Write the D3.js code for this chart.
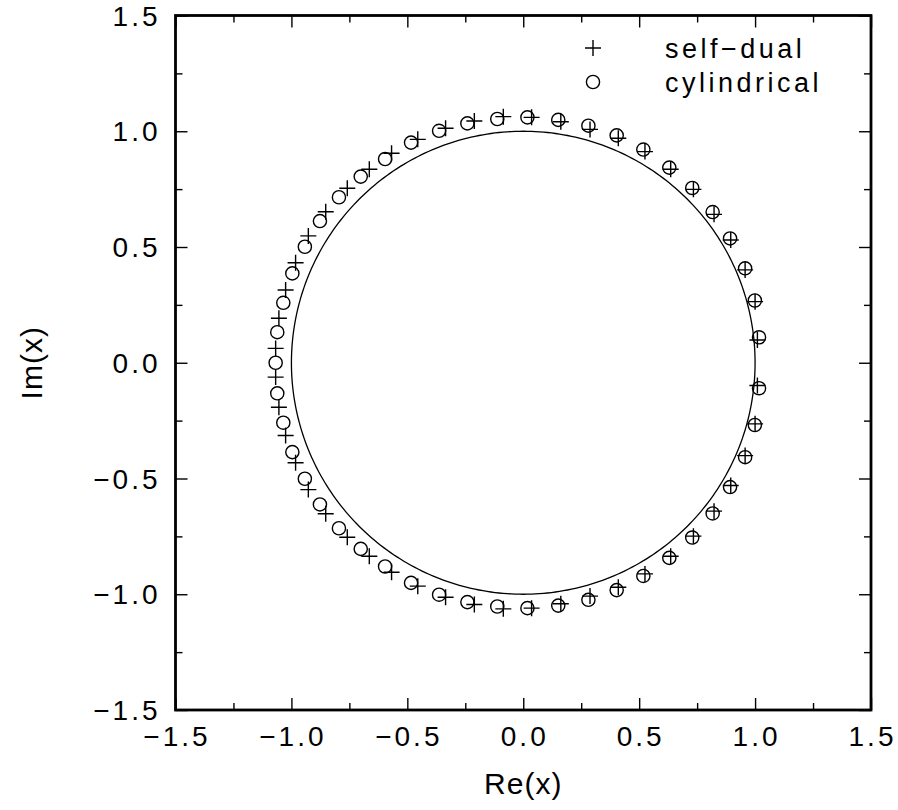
<!DOCTYPE html>
<html>
<head>
<meta charset="utf-8">
<script src="https://cdn.jsdelivr.net/npm/d3@7"></script>
<style>
   body { margin: 0; background: #fff; }
   text { font-family: "Liberation Sans", Arial, sans-serif; fill: #000; }
</style>
</head>
<body>
<div id="chart"></div>
<script>
// roots (re, im)
var selfDual = [
   [-1.068, 0.062], [-1.054, 0.192], [-1.025, 0.314], [-0.982, 0.432], [-0.927, 0.548],
   [-0.852, 0.652], [-0.759, 0.754], [-0.664, 0.836], [-0.568, 0.905], [-0.455, 0.965],
   [-0.335, 1.013], [-0.211, 1.044], [-0.086, 1.063], [0.036, 1.060], [0.162, 1.041],
   [0.288, 1.008], [0.410, 0.970], [0.525, 0.912], [0.636, 0.836], [0.734, 0.749],
   [0.823, 0.641], [0.895, 0.530], [0.957, 0.401], [1.000, 0.264], [1.010, 0.098],
   [-1.068, -0.062], [-1.054, -0.192], [-1.025, -0.314], [-0.982, -0.432], [-0.927, -0.548],
   [-0.852, -0.652], [-0.759, -0.754], [-0.664, -0.836], [-0.568, -0.905], [-0.455, -0.965],
   [-0.335, -1.013], [-0.211, -1.044], [-0.086, -1.063], [0.036, -1.060], [0.162, -1.041],
   [0.288, -1.008], [0.410, -0.970], [0.525, -0.912], [0.636, -0.836], [0.734, -0.749],
   [0.823, -0.641], [0.895, -0.530], [0.957, -0.401], [1.000, -0.264], [1.010, -0.098]
];

var cylindrical = [
   [-1.068, 0.000],
   [-1.061, 0.132], [-1.035, 0.259], [-0.996, 0.386], [-0.942, 0.501], [-0.877, 0.612],
   [-0.795, 0.715], [-0.701, 0.804], [-0.596, 0.880], [-0.484, 0.951], [-0.363, 1.002],
   [-0.241, 1.034], [-0.112, 1.053], [0.018, 1.060], [0.151, 1.049], [0.281, 1.024],
   [0.403, 0.982], [0.518, 0.921], [0.630, 0.843], [0.729, 0.755], [0.817, 0.651],
   [0.892, 0.537], [0.957, 0.408], [0.999, 0.269], [1.017, 0.110],
   [-1.061, -0.132], [-1.035, -0.259], [-0.996, -0.386], [-0.942, -0.501], [-0.877, -0.612],
   [-0.795, -0.715], [-0.701, -0.804], [-0.596, -0.880], [-0.484, -0.951], [-0.363, -1.002],
   [-0.241, -1.034], [-0.112, -1.053], [0.018, -1.060], [0.151, -1.049], [0.281, -1.024],
   [0.403, -0.982], [0.518, -0.921], [0.630, -0.843], [0.729, -0.755], [0.817, -0.651],
   [0.892, -0.537], [0.957, -0.408], [0.999, -0.269], [1.017, -0.110]
];

var majorTicks = [-1.5, -1.0, -0.5, 0.0, 0.5, 1.0, 1.5];
var minorTicks = [-1.25, -0.75, -0.25, 0.25, 0.75, 1.25];
var seriesNames = ["self\u2212dual", "cylindrical"];
var xTitle = "Re(x)", yTitle = "Im(x)";

var width = 898,
   height = 810,
   margin = {top: 15.5, right: 27, bottom: 100, left: 175.5};

var x = d3.scaleLinear().domain([-1.5, 1.5]).range([margin.left, width - margin.right]);
var y = d3.scaleLinear().domain([-1.5, 1.5]).range([height - margin.bottom, margin.top]);
var fmt = d3.format(".1f");

var svg = d3.select("#chart").append("svg")
   .attr("width", width)
   .attr("height", height);

// inward ticks on all four sides
function ticks(axis, vals, size, transform) {
   var g = svg.append("g")
      .attr("transform", transform)
      .call(axis.tickValues(vals).tickSize(-size).tickFormat(""));
   g.select(".domain").remove();
   g.selectAll("line").attr("stroke", "#000").attr("stroke-width", 1.4);
}
var atBottom = "translate(0," + y(-1.5) + ")",
   atTop = "translate(0," + y(1.5) + ")",
   atLeft = "translate(" + x(-1.5) + ",0)",
   atRight = "translate(" + x(1.5) + ",0)";
ticks(d3.axisBottom(x), majorTicks, 12, atBottom);
ticks(d3.axisBottom(x), minorTicks, 7, atBottom);
ticks(d3.axisTop(x), majorTicks, 12, atTop);
ticks(d3.axisTop(x), minorTicks, 7, atTop);
ticks(d3.axisLeft(y), majorTicks, 12, atLeft);
ticks(d3.axisLeft(y), minorTicks, 7, atLeft);
ticks(d3.axisRight(y), majorTicks, 12, atRight);
ticks(d3.axisRight(y), minorTicks, 7, atRight);

svg.append("rect")
   .attr("x", x(-1.5)).attr("y", y(1.5))
   .attr("width", x(1.5) - x(-1.5)).attr("height", y(-1.5) - y(1.5))
   .attr("fill", "none").attr("stroke", "#000").attr("stroke-width", 2.8);

// tick labels
svg.append("g").selectAll("text")
   .data(majorTicks).enter().append("text")
   .attr("x", function(d) { return x(d) + 1.5; })
   .attr("y", y(-1.5) + 36)
   .attr("text-anchor", "middle")
   .style("font-size", "28px")
   .style("letter-spacing", "3px")
   .text(fmt);

svg.append("g").selectAll("text")
   .data(majorTicks).enter().append("text")
   .attr("x", x(-1.5) - 15)
   .attr("y", function(d) { return y(d) + 10; })
   .attr("text-anchor", "end")
   .style("font-size", "28px")
   .style("letter-spacing", "3px")
   .text(fmt);

svg.append("text")
   .attr("x", x(0)).attr("y", height - 16)
   .attr("text-anchor", "middle")
   .style("font-size", "30px")
   .style("letter-spacing", "1px")
   .text(xTitle);

svg.append("text")
   .attr("transform", "translate(42," + y(0) + ") rotate(-90)")
   .attr("text-anchor", "middle")
   .style("font-size", "30px")
   .style("letter-spacing", "1px")
   .text(yTitle);

// unit circle
var circle = d3.range(0, 361).map(function(a) { return [Math.cos(a * Math.PI / 180), Math.sin(a * Math.PI / 180)]; });
svg.append("path")
   .datum(circle)
   .attr("fill", "none")
   .attr("stroke", "#000")
   .attr("stroke-width", 1.3)
   .attr("d", d3.line().x(function(d) { return x(d[0]); }).y(function(d) { return y(d[1]); }));

var plusPath = "M-8,0H8M0,-8V8";

svg.append("g").selectAll("circle")
   .data(cylindrical).enter().append("circle")
   .attr("cx", function(d) { return x(d[0]); })
   .attr("cy", function(d) { return y(d[1]); })
   .attr("r", 6.6)
   .attr("fill", "none")
   .attr("stroke", "#000")
   .attr("stroke-width", 1.4);

svg.append("g").selectAll("path")
   .data(selfDual).enter().append("path")
   .attr("transform", function(d) { return "translate(" + x(d[0]) + "," + y(d[1]) + ")"; })
   .attr("d", plusPath)
   .attr("stroke", "#000")
   .attr("stroke-width", 1.4);

// legend
var lg = svg.append("g");
lg.append("path").attr("transform", "translate(593,48)").attr("d", plusPath)
   .attr("stroke", "#000").attr("stroke-width", 1.4);
lg.append("circle").attr("cx", 593).attr("cy", 82).attr("r", 6.6)
   .attr("fill", "none").attr("stroke", "#000").attr("stroke-width", 1.4);
lg.selectAll("text").data(seriesNames).enter().append("text")
   .attr("x", 665)
   .attr("y", function(d, i) { return 58 + i * 34; })
   .style("font-size", "27px")
   .style("letter-spacing", "3.5px")
   .text(function(d) { return d; });
</script>
</body>
</html>
